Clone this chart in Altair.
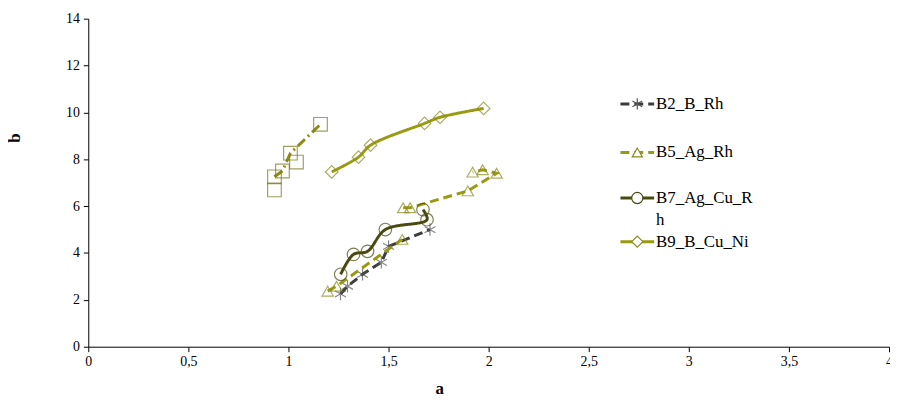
import altair as alt
import pandas as pd

# ---------------- data ----------------
series_names = ["B2_B_Rh", "B5_Ag_Rh", "B7_Ag_Cu_Rh", "B9_B_Cu_Ni"]
legend_labels = ["B2_B_Rh", "B5_Ag_Rh", "B7_Ag_Cu_R\nh", "B9_B_Cu_Ni"]

b2_x = [1.26, 1.295, 1.37, 1.464, 1.50, 1.707]
b2_y = [2.25, 2.58, 3.09, 3.60, 4.28, 5.00]
b2_seg = [0, 0, 0, 0, 0, 0]

b5_x = [1.196, 1.24, 1.568, 1.573, 1.608, 1.896, 2.04, 1.97, 1.92]
b5_y = [2.37, 2.58, 4.58, 5.93, 5.93, 6.65, 7.40, 7.55, 7.45]
b5_seg = [0, 0, 0, 1, 1, 1, 1, 1, 1]

b7_x = [1.261, 1.325, 1.395, 1.484, 1.692, 1.672]
b7_y = [3.09, 3.94, 4.07, 5.00, 5.42, 5.85]
b7_seg = [0, 0, 0, 0, 0, 0]

b9_x = [1.216, 1.35, 1.41, 1.68, 1.757, 1.975]
b9_y = [7.46, 8.09, 8.60, 9.53, 9.79, 10.17]
b9_seg = [0, 0, 0, 0, 0, 0]

# unlabelled square series (not in legend)
sq_x = [0.93, 0.93, 0.97, 1.01, 1.04, 1.16]
sq_y = [6.69, 7.25, 7.50, 8.26, 7.88, 9.49]
sq_on_line = [False, True, True, True, False, True]

x_ticks = [0, 0.5, 1, 1.5, 2, 2.5, 3, 3.5, 4]
y_ticks = [0, 2, 4, 6, 8, 10, 12, 14]

# ---------------- styles ----------------
OLIVE = "#9a9a12"
DARK_OLIVE = "#4a4a10"
DARK_GRAY = "#3c3c3c"
FONT = "'Liberation Serif', 'Times New Roman', Times, serif"

ASTERISK = "M0,-1L0,1M-0.87,-0.5L0.87,0.5M-0.87,0.5L0.87,-0.5"

styles = {
    "B2_B_Rh": dict(color=DARK_GRAY, dash=[9, 5], shape=ASTERISK, size=160, interp="linear", mcolor="#555555"),
    "B5_Ag_Rh": dict(color=OLIVE, dash=[9, 5], shape="triangle-up", size=130, interp="linear", mcolor="#8a8a20"),
    "B7_Ag_Cu_Rh": dict(color=DARK_OLIVE, dash=[1, 0], shape="circle", size=160, interp="catmull-rom", mcolor=DARK_OLIVE),
    "B9_B_Cu_Ni": dict(color=OLIVE, dash=[1, 0], shape="diamond", size=160, interp="catmull-rom", mcolor="#8a8a20"),
}

series_data = {
    "B2_B_Rh": (b2_x, b2_y, b2_seg),
    "B5_Ag_Rh": (b5_x, b5_y, b5_seg),
    "B7_Ag_Cu_Rh": (b7_x, b7_y, b7_seg),
    "B9_B_Cu_Ni": (b9_x, b9_y, b9_seg),
}

rows = []
for name in series_names:
    xs, ys, segs = series_data[name]
    for i, (xv, yv, sg) in enumerate(zip(xs, ys, segs)):
        rows.append({"series": name, "a": xv, "b": yv, "idx": i, "seg": sg, "online": True})
for i, (xv, yv, on) in enumerate(zip(sq_x, sq_y, sq_on_line)):
    rows.append({"series": "SQ", "a": xv, "b": yv, "idx": i, "seg": 0, "online": on})
df = pd.DataFrame(rows)

x_scale = alt.Scale(domain=[0, 4], nice=False, zero=False)
y_scale = alt.Scale(domain=[0, 14], nice=False, zero=False)

x_axis = alt.Axis(
    values=x_ticks, grid=False, title="a", labelFlush=False,
    labelExpr="replace(toString(datum.value), '.', ',')",
    labelFont=FONT, labelFontSize=14, labelColor="#000000",
    tickSize=5, tickColor="#000000", domainColor="#000000", labelPadding=3,
    titleFont=FONT, titleFontSize=17, titleFontWeight="bold", titleColor="#000000",
    titleX=354, titleY=42, titleAlign="center", titleBaseline="middle",
)
y_axis = alt.Axis(
    values=y_ticks, grid=False, title="b", labelFlush=False,
    labelFont=FONT, labelFontSize=14, labelColor="#000000",
    tickSize=5, tickColor="#000000", domainColor="#000000", labelPadding=4,
    titleFont=FONT, titleFontSize=17, titleFontWeight="bold", titleColor="#000000",
    titleX=-74, titleY=120, titleAlign="center", titleAngle=-90, titleBaseline="middle",
)

base = alt.Chart(df)

layers = []
# axes carrier (invisible)
layers.append(
    base.mark_point(opacity=0).encode(
        x=alt.X("a:Q", scale=x_scale, axis=x_axis),
        y=alt.Y("b:Q", scale=y_scale, axis=y_axis),
    )
)

# square series
sq = base.transform_filter(alt.datum.series == "SQ")
layers.append(
    sq.transform_filter(alt.datum.online).mark_line(
        color="#8c8c10", strokeWidth=3, strokeDash=[10, 4, 2, 4]
    ).encode(x=alt.X("a:Q", scale=x_scale), y=alt.Y("b:Q", scale=y_scale), order="idx:Q")
)
layers.append(
    sq.mark_point(shape="square", size=190, filled=False, color="#7a7a20", strokeWidth=1.2).encode(
        x=alt.X("a:Q", scale=x_scale), y=alt.Y("b:Q", scale=y_scale)
    )
)

for name in series_names:
    st = styles[name]
    s = base.transform_filter(alt.datum.series == name)
    layers.append(
        s.mark_line(color=st["color"], strokeWidth=3, strokeDash=st["dash"], interpolate=st["interp"]).encode(
            x=alt.X("a:Q", scale=x_scale), y=alt.Y("b:Q", scale=y_scale), order="idx:Q", detail="seg:N"
        )
    )
    layers.append(
        s.mark_point(shape=st["shape"], size=st["size"], filled=False, color=st["mcolor"], strokeWidth=1.2).encode(
            x=alt.X("a:Q", scale=x_scale), y=alt.Y("b:Q", scale=y_scale)
        )
    )

# ---------------- manual legend ----------------
leg_df = pd.DataFrame({"k": [0]})
leg_y = [86, 135, 181, 225]
for name, label, ly in zip(series_names, legend_labels, leg_y):
    st = styles[name]
    lc = alt.Chart(leg_df)
    layers.append(
        lc.mark_rule(color=st["color"], strokeWidth=3, strokeDash=st["dash"]).encode(
            x=alt.value(537), x2=alt.value(571), y=alt.value(ly)
        )
    )
    layers.append(
        lc.mark_point(shape=st["shape"], size=st["size"] * 0.8, filled=True, fill="white",
                      stroke=st["mcolor"], strokeWidth=1.2, opacity=1).encode(
            x=alt.value(554), y=alt.value(ly)
        )
    )
    for k, line in enumerate(label.split("\n")):
        layers.append(
            lc.mark_text(align="left", baseline="middle", font=FONT, fontSize=17, color="#000000").encode(
                x=alt.value(573), y=alt.value(ly + 22 * k), text=alt.value(line)
            )
        )

chart = alt.layer(*layers).properties(
    width=808, height=331,
    autosize=alt.AutoSizeParams(type="none"),
    padding={"left": 81, "top": 9, "right": 1, "bottom": 49},
    background="white",
).configure_view(stroke=None)

chart.save("out.html", embed_options={"renderer": "svg", "actions": False})
